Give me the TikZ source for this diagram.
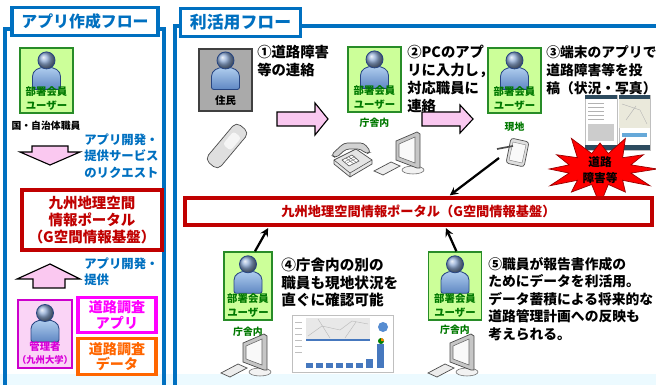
\documentclass[tikz,border=0pt]{standalone}
\usepackage{fontspec}
\setmainfont{Noto Sans CJK JP}
\usetikzlibrary{calc,positioning}

\definecolor{flowblue}{RGB}{0,112,192}
\definecolor{usergreen}{RGB}{204,255,153}
\definecolor{usergreenline}{RGB}{40,140,40}
\definecolor{usertext}{RGB}{0,120,0}
\definecolor{portalred}{RGB}{192,0,0}
\definecolor{arrowpink}{RGB}{250,200,240}
\definecolor{appmagenta}{RGB}{255,0,255}
\definecolor{adminpink}{RGB}{250,212,246}
\definecolor{dataorange}{RGB}{255,102,0}
\definecolor{iconblue}{RGB}{95,135,195}
\definecolor{iconlight}{RGB}{175,205,238}
\definecolor{iconline}{RGB}{40,70,130}
\definecolor{residentgray}{RGB}{170,170,170}
\definecolor{barblue}{RGB}{70,120,190}
\definecolor{screenbar}{RGB}{45,75,95}
\definecolor{bottomcyan}{RGB}{236,250,255}

\tikzset{
  usericon/.pic={
    \shadedraw[top color=iconlight, bottom color=iconblue, draw=iconline, line width=0.6pt, rounded corners=1.5pt]
      (-14,42) -- (-14,31) .. controls (-14,23) and (-8,20) .. (0,20)
      .. controls (8,20) and (14,23) .. (14,31) -- (14,42) -- cycle;
    \shadedraw[ball color=iconblue!70!white, draw=iconline, line width=0.6pt] (0,13) circle[radius=8.5];
  },
  desktop/.pic={
    \draw[fill=gray!10, draw=black!60, line width=0.4pt] (5,19) ellipse[x radius=11, y radius=4];
    \draw[fill=gray!45, draw=black!70, line width=0.5pt] (-12,-10) -- (9,-19) -- (12,-17) -- (12,17) -- (9,17) -- (-12,9) -- cycle;
    \draw[fill=gray!5, draw=black!60, line width=0.4pt] (-9,-7) -- (7,-14) -- (7,12) -- (-9,6) -- cycle;
    \draw[fill=gray!15, draw=black!70, line width=0.5pt] (-34,20) -- (-17,11) -- (-8,15) -- (-25,24) -- cycle;
  },
  deskphone/.pic={
    \draw[fill=gray!20, draw=black!70, line width=0.5pt] (-18,2) -- (4,-9) -- (20,2) -- (20,6) -- (-2,19) -- (-18,6) -- cycle;
    \draw[draw=black!70, line width=0.4pt] (-18,2) -- (-2,15) -- (20,2) (-2,15) -- (-2,19);
    \draw[fill=white, draw=black!70, line width=0.4pt] (-10,2) -- (0,-3) -- (7,3) -- (-3,8) -- cycle;
    \draw[black!60, line width=0.3pt] (-7,3.5) -- (3,-1.5) (-5,5) -- (5,0) (-6,0) -- (2,6) (-3,-1) -- (5,5);
    \draw[fill=gray!35, draw=black!70, line width=0.5pt, rounded corners=2.5pt]
      (-21,-3) -- (-8,-15) -- (12,-15) -- (19,-6) -- (14,-4) -- (9,-9) -- (-6,-9) -- (-16,0) -- cycle;
  },
}

\begin{document}
\begin{tikzpicture}[x=0.025cm, y=-0.025cm, >=stealth,
  panel/.style={draw=flowblue, line width=2.2pt},
  tabbox/.style={draw=flowblue, line width=2.2pt, fill=white, text=flowblue, inner sep=0pt, minimum height=0.72cm},
  ubox/.style={draw=usergreenline, fill=usergreen, line width=1pt, minimum width=1.33cm, minimum height=1.62cm, inner sep=0pt},
  utext/.style={font=\fontsize{7.4}{9.8}\selectfont\bfseries, align=center, inner sep=0pt, text=usertext, anchor=south},
  place/.style={font=\fontsize{7}{8}\selectfont\bfseries, text=usertext, inner sep=0pt},
  note/.style={font=\fontsize{10.2}{12.8}\selectfont\bfseries, align=left, inner sep=0pt, anchor=north west},
  bluenote/.style={font=\fontsize{8.8}{11.6}\selectfont\bfseries, align=left, inner sep=0pt, anchor=west, text=flowblue},
  portal/.style={draw=portalred, fill=white, text=portalred, inner sep=0pt, align=center},
  toolbox/.style={fill=white, line width=2.6pt, inner sep=0pt, align=center, minimum width=1.95cm,
    font=\fontsize{10}{10.8}\selectfont\bfseries},
  blockarrow/.style={draw=black, fill=arrowpink, line width=0.8pt, line join=miter},
  link/.style={->, line width=1.6pt, shorten >=1pt},
  screen/.style={fill=white, draw=gray!50, line width=0.3pt},
]
\useasboundingbox (0,0) rectangle (656,385);
\fill[bottomcyan] (0,374) rectangle (656,385);

%% frames of the two flows
\draw[panel] (5,400) -- (5,29) -- (164,29) -- (164,400);
\draw[panel] (175,400) -- (175,26) -- (670,26);
\node[tabbox, minimum width=3.65cm, font=\fontsize{11.3}{12}\selectfont\bfseries] (apptab) at (85,21.5) {アプリ作成フロー};
\node[tabbox, minimum width=2.98cm, font=\fontsize{12}{12}\selectfont\bfseries] (usetab) at (240.5,22.5) {利活用フロー};

%% ---- app building flow (left)
\node[ubox] (member) at (46.5,80.5) {};
\pic at (member.north) {usericon};
\node[utext] at ([yshift=2pt]member.south) {部署会員\\ユーザー};
\node[font=\fontsize{7}{8}\selectfont\bfseries, inner sep=0pt] (staff) at (46,126) {国・自治体職員};

\draw[blockarrow] (32,146) -- (68,146) -- (68,152) -- (80,152) -- (50,165) -- (20,152) -- (32,152) -- cycle;
\node[bluenote] (request) at (84,156) {アプリ開発・\\提供サービス\\のリクエスト};

\node[portal, line width=3pt, minimum width=3.5cm, minimum height=1.5cm,
  font=\fontsize{10.3}{12.2}\selectfont\bfseries] (portalL) at (92,220) {九州地理空間\\情報ポータル\\（G空間情報基盤）};

\draw[blockarrow] (50,264) -- (80,279) -- (65,279) -- (65,288) -- (33,288) -- (33,279) -- (17,279) -- cycle;
\node[bluenote] (provide) at (84,272) {アプリ開発・\\提供};

\node[draw=appmagenta!80!black, fill=adminpink, line width=1pt, minimum width=1.35cm, minimum height=1.7cm, inner sep=0pt] (admin) at (45,334) {};
\pic at ([yshift=-0.5pt]admin.north) {usericon};
\node[utext, text=appmagenta!85!black, font=\fontsize{7.4}{9.4}\selectfont\bfseries] at ([yshift=2.5pt]admin.south) {管理者\\{\fontsize{6.6}{8}\selectfont（九州大学）}};
\node[toolbox, draw=appmagenta, text=appmagenta, minimum height=0.88cm] (app) at (117,315) {道路調査\\アプリ};
\node[toolbox, draw=dataorange, text=dataorange, minimum height=0.9cm] (data) at (117,356.5) {道路調査\\データ};

%% ---- usage flow (right)
\node[ubox, fill=residentgray, draw=black!75, line width=1.2pt, minimum height=1.55cm] (resident) at (225.5,80) {};
\pic at ([yshift=0.5pt]resident.north) {usericon};
\node[utext, text=black] at ([yshift=4.5pt]resident.south) {住民};
\node[rotate=-40, draw=black!70, fill=gray!25, rounded corners=4pt, minimum width=0.42cm, minimum height=1.22cm, line width=0.5pt] (mobile) at (227,146) {};
\node[rotate=-40, fill=gray!8, rounded corners=2pt, minimum width=0.25cm, minimum height=0.42cm, inner sep=0pt] at ([shift={(5,-5)}]mobile.center) {};
\node[note] (step1) at (257,45) {①道路障害\\等の連絡};
\draw[blockarrow] (277,112) -- (315,112) -- (315,103) -- (328,119) -- (315,135) -- (315,126) -- (277,126) -- cycle;

\node[ubox] (officeA) at (374.5,79.5) {};
\pic at (officeA.north) {usericon};
\node[utext] at ([yshift=2pt]officeA.south) {部署会員\\ユーザー};
\node[place, below=4pt of officeA] (placeA) {庁舎内};
\pic at (352,158) {deskphone};
\pic at (408,151) {desktop};
\node[note] (step2) at (407,45) {②PCのアプ\\リに入力し，\\対応職員に\\連絡};
\draw[blockarrow] (422,112) -- (460,112) -- (460,105) -- (473,119) -- (460,133) -- (460,126) -- (422,126) -- cycle;

\node[ubox] (fieldB) at (514.5,80.5) {};
\pic at (fieldB.north) {usericon};
\node[utext] at ([yshift=2pt]fieldB.south) {部署会員\\ユーザー};
\node[place, below=6pt of fieldB] (placeB) {現地};
\draw[fill=gray!25, draw=black!70, line width=0.5pt, rounded corners=2pt] (511,138) -- (529,142) -- (524,167) -- (506,163) -- cycle;
\draw[fill=gray!5, draw=black!50, line width=0.3pt] (513,142) -- (526,145) -- (522,163) -- (509,160) -- cycle;
\draw[line width=1.2pt, black!70] (497,149) -- (513,146);
\coordinate (tablet) at (499,158);
\node[note, font=\fontsize{9.8}{12.8}\selectfont\bfseries] (step3) at (546,45) {③端末のアプリで\\道路障害等を投\\稿（状況・写真）};

% app screens
\draw[screen] (585,95) rectangle (617,150);
\fill[screenbar] (585,95) rectangle (617,99);
\foreach \y in {103,107,111,115,119} \draw[gray!60, line width=0.4pt] (588,\y) -- (604,\y);
\fill[gray!40] (588,124) rectangle (614,141);
\fill[screenbar] (585,145) rectangle (617,150);
\draw[screen] (619,95) rectangle (650,150);
\fill[screenbar] (619,95) rectangle (650,99);
\fill[yellow!25!gray!25] (619,99) rectangle (650,128);
\draw[gray!60, line width=0.3pt] (622,104) -- (640,110) -- (647,124) (626,120) -- (636,106);
\fill[flowblue!60] (622,133) rectangle (647,137);
\fill[screenbar] (619,145) rectangle (650,150);

% road trouble burst
\filldraw[fill=red, draw=red!60!black, line width=0.5pt]
  plot[samples at={0,15,...,345}, variable=\t]
  ({600+(mod(\t,30)==0 ? 54+5*sin(3*\t+40) : 32)*cos(\t)},
   {169+(mod(\t,30)==0 ? 31+5*sin(5*\t) : 16)*sin(\t)}) -- cycle;
\node[font=\fontsize{8.3}{11}\selectfont\bfseries, align=center, inner sep=0pt] (trouble) at (600,170) {道路\\障害等};

\node[portal, line width=2.4pt, minimum width=11.68cm, minimum height=0.68cm,
  font=\fontsize{9.4}{10}\selectfont\bfseries] (portalR) at (418.5,211.5) {九州地理空間情報ポータル（G空間情報基盤）};

\node[ubox, minimum width=1.2cm, minimum height=1.7cm] (officeC) at (248,286) {};
\pic at (officeC.north) {usericon};
\node[utext] at ([yshift=2pt]officeC.south) {部署会員\\ユーザー};
\node[place, below=4pt of officeC] (placeC) {庁舎内};
\pic at (255,353) {desktop};
\node[note, font=\fontsize{10.4}{12.4}\selectfont\bfseries] (step4) at (281,258) {④庁舎内の別の\\職員も現地状況を\\直ぐに確認可能};

% dashboard
\draw[screen] (292,315) rectangle (393,372);
\fill[gray!18] (306,318) rectangle (370,340);
\draw[gray!55, line width=0.3pt] (308,336) -- (322,326) -- (340,330) -- (352,321) -- (368,324) (318,319) -- (330,338) (345,338) -- (356,322);
\fill[barblue] (306,339) rectangle (370,341);
\foreach \y in {322,328,...,352} \draw[gray!50, line width=0.4pt] (295,\y) -- (302,\y);
\fill[cyan!50!blue!70] (383,327) circle[radius=5];
\fill[green!50!black] (381,341) circle[radius=3];
\fill[orange] (381,341) -- ++(0:3) arc[start angle=0, end angle=-90, radius=3] -- cycle;
\foreach \x/\h in {306/5,316/5,326/5,336/5,346/5,356/5,366/9,377/24} \fill[barblue] (\x,368) rectangle ++(7,-\h);

\node[ubox, minimum height=1.7cm] (officeD) at (455,286) {};
\pic at (officeD.north) {usericon};
\node[utext] at ([yshift=2pt]officeD.south) {部署会員\\ユーザー};
\node[place, below=3pt of officeD] (placeD) {庁舎内};
\pic at (462,353) {desktop};
\node[note, font=\fontsize{9.8}{12.4}\selectfont\bfseries] (step5) at (488,257) {⑤職員が報告書作成の\\ためにデータを利活用。\\データ蓄積による将来的な\\道路管理計画への反映も\\考えられる。};

%% data links to the portal
\draw[link] (tablet) -- ($(portalR.north west)!0.564!(portalR.north east)$);
\draw[link] ($(officeC.north)+(7,0)$) -- ($(portalR.south west)!0.182!(portalR.south east)$);
\draw[link] ([xshift=1pt]officeD.north) -- ($(portalR.south west)!0.557!(portalR.south east)$);
\end{tikzpicture}
\end{document}
